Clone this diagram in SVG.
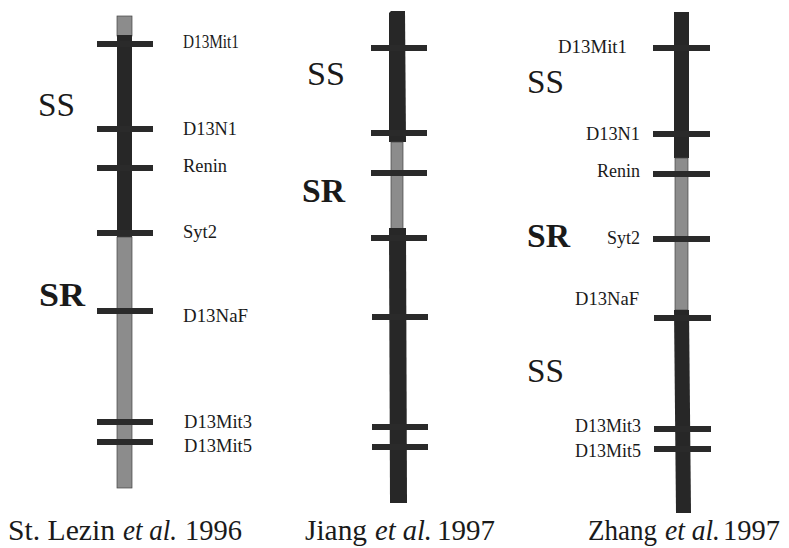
<svg xmlns="http://www.w3.org/2000/svg" width="789" height="548" viewBox="0 0 789 548">
  <style>
    .dark { fill: #272727; }
    .gray { fill: #8c8c8c; stroke: #444444; stroke-width: 0.7; }
    .tick { fill: #2a2a2a; }
    .mk { font-family: "Liberation Serif", "Times New Roman", serif; font-size: 18px; fill: #1a1a1a; }
    .mk-end { text-anchor: end; }
    .strain { font-family: "Liberation Serif", "Times New Roman", serif; font-size: 34px; fill: #1a1a1a; }
    .strain-b { font-weight: bold; }
    .cap { font-family: "Liberation Serif", "Times New Roman", serif; font-size: 30px; fill: #1a1a1a; }
    .it { font-style: italic; }
  </style>

  <rect width="789" height="548" fill="#ffffff"/>

  <!-- Map 1: St. Lezin et al. 1996 -->
  <g id="map-stlezin">
    <rect class="gray" x="117" y="16" width="15" height="20"/>
    <rect class="dark" x="117" y="35" width="15" height="202"/>
    <rect class="gray" x="117" y="237" width="15" height="251"/>
    <rect class="tick" x="97" y="41" width="56" height="6"/>
    <rect class="tick" x="97" y="126" width="56" height="6"/>
    <rect class="tick" x="97" y="165" width="56" height="6"/>
    <rect class="tick" x="97" y="230" width="56" height="6"/>
    <rect class="tick" x="97" y="308" width="56" height="6"/>
    <rect class="tick" x="97" y="419" width="56" height="6"/>
    <rect class="tick" x="97" y="439" width="56" height="6"/>
    <text class="mk" x="183" y="48" textLength="56" lengthAdjust="spacingAndGlyphs">D13Mit1</text>
    <text class="mk" x="183" y="135" textLength="54" lengthAdjust="spacingAndGlyphs">D13N1</text>
    <text class="mk" x="183" y="172" textLength="44" lengthAdjust="spacingAndGlyphs">Renin</text>
    <text class="mk" x="183" y="238" textLength="34" lengthAdjust="spacingAndGlyphs">Syt2</text>
    <text class="mk" x="183" y="322" textLength="65" lengthAdjust="spacingAndGlyphs">D13NaF</text>
    <text class="mk" x="184" y="428" textLength="68" lengthAdjust="spacingAndGlyphs">D13Mit3</text>
    <text class="mk" x="184" y="452" textLength="68" lengthAdjust="spacingAndGlyphs">D13Mit5</text>
    <text class="strain" x="38" y="116" textLength="37" lengthAdjust="spacingAndGlyphs">SS</text>
    <text class="strain strain-b" x="39" y="306" textLength="46" lengthAdjust="spacingAndGlyphs">SR</text>
  </g>

  <!-- Map 2: Jiang et al. 1997 -->
  <g id="map-jiang">
    <path class="dark" d="M389,13 L391,11 L405,11 L406,142 L389,142 Z"/>
    <rect class="gray" x="391" y="142" width="12" height="87"/>
    <path class="dark" d="M389,228 L406,228 L407,503 L390,503 Z"/>
    <rect class="tick" x="371" y="45" width="56" height="6"/>
    <rect class="tick" x="371" y="130" width="56" height="6"/>
    <rect class="tick" x="371" y="170" width="56" height="6"/>
    <rect class="tick" x="371" y="235" width="56" height="6"/>
    <rect class="tick" x="372" y="314" width="56" height="6"/>
    <rect class="tick" x="372" y="424" width="56" height="6"/>
    <rect class="tick" x="372" y="444" width="56" height="6"/>
    <text class="strain" x="307" y="85" textLength="38" lengthAdjust="spacingAndGlyphs">SS</text>
    <text class="strain strain-b" x="302" y="202" textLength="43" lengthAdjust="spacingAndGlyphs">SR</text>
  </g>

  <!-- Map 3: Zhang et al. 1997 -->
  <g id="map-zhang">
    <path class="dark" d="M674,12 L689,12 L689,158 L674,158 Z"/>
    <rect class="gray" x="675" y="158" width="13" height="152"/>
    <path class="dark" d="M674,310 L689,310 L691,513 L676,513 Z"/>
    <rect class="tick" x="653" y="45" width="57" height="6"/>
    <rect class="tick" x="653" y="131" width="57" height="6"/>
    <rect class="tick" x="653" y="171" width="57" height="6"/>
    <rect class="tick" x="653" y="236" width="57" height="6"/>
    <rect class="tick" x="654" y="315" width="57" height="6"/>
    <rect class="tick" x="654" y="426" width="57" height="6"/>
    <rect class="tick" x="654" y="446" width="57" height="6"/>
    <text class="mk mk-end" x="627" y="53" textLength="69" lengthAdjust="spacingAndGlyphs">D13Mit1</text>
    <text class="mk mk-end" x="640" y="140" textLength="54" lengthAdjust="spacingAndGlyphs">D13N1</text>
    <text class="mk mk-end" x="640" y="177" textLength="43" lengthAdjust="spacingAndGlyphs">Renin</text>
    <text class="mk mk-end" x="640" y="244" textLength="33" lengthAdjust="spacingAndGlyphs">Syt2</text>
    <text class="mk mk-end" x="639" y="305" textLength="64" lengthAdjust="spacingAndGlyphs">D13NaF</text>
    <text class="mk mk-end" x="641" y="432" textLength="66" lengthAdjust="spacingAndGlyphs">D13Mit3</text>
    <text class="mk mk-end" x="641" y="457" textLength="66" lengthAdjust="spacingAndGlyphs">D13Mit5</text>
    <text class="strain" x="527" y="93" textLength="37" lengthAdjust="spacingAndGlyphs">SS</text>
    <text class="strain strain-b" x="527" y="247" textLength="43" lengthAdjust="spacingAndGlyphs">SR</text>
    <text class="strain" x="527" y="382" textLength="37" lengthAdjust="spacingAndGlyphs">SS</text>
  </g>

  <!-- Captions: author, italic "et al.", year -->
  <g id="captions">
    <text class="cap" x="8" y="540" textLength="107" lengthAdjust="spacingAndGlyphs">St. Lezin</text>
    <text class="cap it" x="123" y="540" textLength="54" lengthAdjust="spacingAndGlyphs">et al.</text>
    <text class="cap" x="185" y="540" textLength="57" lengthAdjust="spacingAndGlyphs">1996</text>
    <text class="cap" x="305" y="540" textLength="62" lengthAdjust="spacingAndGlyphs">Jiang</text>
    <text class="cap it" x="375" y="540" textLength="57" lengthAdjust="spacingAndGlyphs">et al.</text>
    <text class="cap" x="437" y="540" textLength="58" lengthAdjust="spacingAndGlyphs">1997</text>
    <text class="cap" x="588" y="540" textLength="69" lengthAdjust="spacingAndGlyphs">Zhang</text>
    <text class="cap it" x="665" y="540" textLength="55" lengthAdjust="spacingAndGlyphs">et al.</text>
    <text class="cap" x="723" y="540" textLength="57" lengthAdjust="spacingAndGlyphs">1997</text>
  </g>
</svg>
